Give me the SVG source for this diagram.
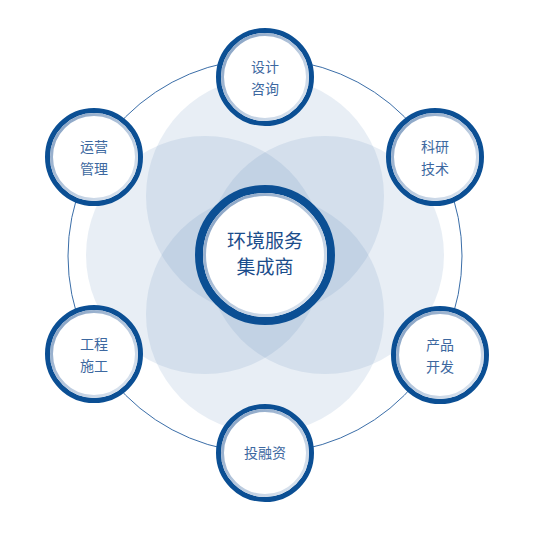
<svg xmlns="http://www.w3.org/2000/svg" width="534" height="552" viewBox="0 0 534 552">
<defs>
<linearGradient id="ringg" x1="0" y1="0" x2="1" y2="1">
<stop offset="0" stop-color="#7f9cc0"/>
<stop offset="0.5" stop-color="#b4c6dc"/>
<stop offset="1" stop-color="#e4ebf3"/>
</linearGradient>
<style>
.petal{fill:#4a7ab0;fill-opacity:0.13}
.orbit{fill:none;stroke:#3b6ea8;stroke-width:1}
.ring{fill:#fff;stroke:#0b4f94}
.inner{fill:none;stroke:url(#ringg);stroke-width:3}
.lbl{font-family:"Noto Sans CJK SC","Noto Sans",sans-serif;font-size:14px;fill:#3d68a0;text-anchor:middle}
.clbl{font-family:"Noto Sans CJK SC","Noto Sans",sans-serif;font-size:19px;fill:#1b4d8b;text-anchor:middle}
</style>
</defs>
<rect width="534" height="552" fill="#fff"/>
<g id="petals">
<circle class="petal" cx="265" cy="196" r="119"/>
<circle class="petal" cx="265" cy="314" r="119"/>
<circle class="petal" cx="205" cy="255" r="119"/>
<circle class="petal" cx="325" cy="255" r="119"/>
</g>
<g id="connectors">
<circle class="orbit" cx="265" cy="256" r="197"/>
</g>
<g id="center">
<circle class="ring" cx="265" cy="255" r="66" stroke-width="8"/>
<circle class="inner" cx="265" cy="255" r="60.5"/>
<text class="clbl" x="265" y="248">环境服务</text>
<text class="clbl" x="265" y="274">集成商</text>
</g>
<g id="n-top">
<circle class="ring" cx="265" cy="77" r="46.5" stroke-width="5"/>
<circle class="inner" cx="265" cy="77" r="42.5"/>
<text class="lbl" x="265" y="72">设计</text>
<text class="lbl" x="265" y="94">咨询</text>
</g>
<g id="n-rt">
<circle class="ring" cx="435" cy="157" r="46.5" stroke-width="5"/>
<circle class="inner" cx="435" cy="157" r="42.5"/>
<text class="lbl" x="435" y="152">科研</text>
<text class="lbl" x="435" y="174">技术</text>
</g>
<g id="n-rb">
<circle class="ring" cx="440" cy="355" r="46.5" stroke-width="5"/>
<circle class="inner" cx="440" cy="355" r="42.5"/>
<text class="lbl" x="440" y="350">产品</text>
<text class="lbl" x="440" y="372">开发</text>
</g>
<g id="n-bottom">
<circle class="ring" cx="265" cy="453" r="46.5" stroke-width="5"/>
<circle class="inner" cx="265" cy="453" r="42.5"/>
<text class="lbl" x="265" y="458">投融资</text>
</g>
<g id="n-lb">
<circle class="ring" cx="94" cy="354" r="46.5" stroke-width="5"/>
<circle class="inner" cx="94" cy="354" r="42.5"/>
<text class="lbl" x="94" y="349">工程</text>
<text class="lbl" x="94" y="371">施工</text>
</g>
<g id="n-lt">
<circle class="ring" cx="94" cy="157" r="46.5" stroke-width="5"/>
<circle class="inner" cx="94" cy="157" r="42.5"/>
<text class="lbl" x="94" y="152">运营</text>
<text class="lbl" x="94" y="174">管理</text>
</g>
</svg>
